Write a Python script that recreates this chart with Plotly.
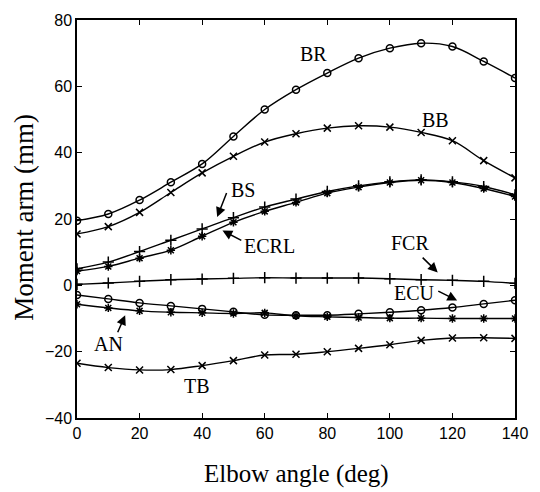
import plotly.graph_objects as go

# Elbow flexion angle (deg)
angle = [0, 10, 20, 30, 40, 50, 60, 70, 80, 90, 100, 110, 120, 130, 140]

# Moment arms (mm) of each muscle across the elbow range
br = [19.5, 21.5, 25.7, 31.1, 36.6, 44.9, 53.0, 59.0, 64.0, 68.5, 71.5, 73.0, 72.0, 67.5, 62.5]
bb = [15.5, 17.7, 22.0, 28.0, 33.9, 38.9, 43.2, 45.7, 47.4, 48.1, 47.7, 46.1, 43.6, 37.6, 32.4]
bs = [5.0, 7.0, 10.2, 13.6, 17.0, 20.4, 23.6, 26.0, 28.3, 30.0, 31.2, 31.8, 31.2, 29.8, 27.3]
ecrl = [4.3, 5.7, 8.2, 10.6, 14.8, 19.0, 22.3, 25.0, 27.8, 29.6, 31.0, 31.7, 31.0, 29.2, 26.8]
fcr = [0.3, 0.7, 1.2, 1.7, 1.9, 2.1, 2.3, 2.2, 2.2, 2.2, 2.0, 1.7, 1.5, 1.2, 0.6]
ecu = [-2.9, -4.1, -5.3, -6.2, -7.1, -8.0, -8.9, -9.0, -9.0, -8.6, -8.1, -7.5, -6.7, -5.6, -4.5]
an = [-5.7, -6.8, -7.7, -8.1, -8.3, -8.5, -8.3, -9.2, -9.5, -9.7, -9.9, -9.9, -10.0, -10.0, -10.0]
tb = [-23.5, -24.8, -25.5, -25.4, -24.2, -22.7, -21.0, -20.8, -20.0, -19.0, -17.9, -16.6, -15.9, -15.8, -16.0]

series = [
    ("BR", br, "circle-open", 7),
    ("BB", bb, "x-thin-open", 7),
    ("BS", bs, "cross-thin-open", 8),
    ("ECRL", ecrl, "asterisk-open", 7),
    ("FCR", fcr, "cross-thin-open", 8),
    ("ECU", ecu, "circle-open", 7),
    ("AN", an, "asterisk-open", 7),
    ("TB", tb, "x-thin-open", 7),
]

fig = go.Figure()
for name, vals, sym, size in series:
    fig.add_trace(go.Scatter(
        x=angle, y=vals, name=name, mode="lines+markers",
        line=dict(color="black", width=1.4, shape="spline", smoothing=1.0),
        marker=dict(symbol=sym, size=size, color="black",
                    line=dict(color="black", width=1.5)),
        showlegend=False,
    ))

serif = "Liberation Serif, Times New Roman, serif"
lab_font = dict(family=serif, size=20, color="black")

# Curve labels: (text, x, y)
labels = [
    ("BR", 75.5, 69.8), ("BB", 114.5, 50.0), ("BS", 53.0, 28.8),
    ("ECRL", 61.5, 11.8), ("FCR", 106.5, 12.8), ("ECU", 108.0, -2.4),
    ("AN", 10.0, -17.6), ("TB", 38.5, -30.4),
]
for text, x, y in labels:
    fig.add_annotation(x=x, y=y, text=text, showarrow=False, font=lab_font,
                       xanchor="center", yanchor="middle")

# Pointer arrows: (tail x, tail y, head x, head y)
arrows = [
    (48.0, 28.3, 44.8, 20.6),
    (53.0, 13.3, 46.5, 16.5),
    (110.0, 8.8, 115.3, 3.9),
    (115.0, -1.5, 121.5, -4.6),
    (12.8, -14.6, 15.4, -9.0),
]
for ax_, ay_, x, y in arrows:
    fig.add_annotation(x=x, y=y, ax=ax_, ay=ay_, axref="x", ayref="y",
                       text="", showarrow=True, arrowhead=2, arrowsize=1.3,
                       arrowwidth=1.5, arrowcolor="black")

tick_font = dict(family="Liberation Sans, Arial, sans-serif", size=16, color="black")
axis_common = dict(showgrid=False, zeroline=False, showline=True, linecolor="black",
                   linewidth=1.5, mirror="ticks", ticks="inside", ticklen=5,
                   tickcolor="black", tickwidth=1.2, tickfont=tick_font)

fig.update_xaxes(range=[0, 140], tickmode="linear", tick0=0, dtick=20, **axis_common)
fig.update_yaxes(range=[-40, 80], tickmode="linear", tick0=-40, dtick=20, **axis_common)

fig.add_annotation(xref="paper", yref="paper", x=0.5, y=-0.141,
                   xanchor="center", yanchor="middle",
                   text="Elbow angle (deg)", showarrow=False,
                   font=dict(family=serif, size=25, color="black"))
fig.add_annotation(xref="paper", yref="paper", x=-0.12, y=0.504, textangle=-90,
                   xanchor="center", yanchor="middle",
                   text="Moment arm (mm)", showarrow=False,
                   font=dict(family=serif, size=27, color="black"))

fig.update_layout(width=540, height=492, margin=dict(l=77, r=14, t=15, b=74),
                  plot_bgcolor="white", paper_bgcolor="white")

fig.write_html("out.html")
